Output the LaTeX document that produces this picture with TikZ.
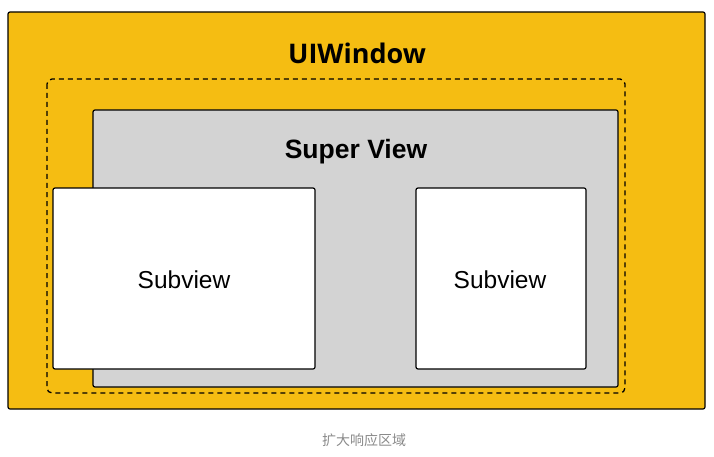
\documentclass[tikz,border=0pt]{standalone}
\usepackage{fontspec}
\setmainfont{Liberation Sans}
\newfontfamily\winfont{Open Sans}
\newfontfamily\cjk{Noto Sans CJK SC}
\usepackage[HTML]{xcolor}
\usepackage{tikz}
\usetikzlibrary{positioning}
\definecolor{winyellow}{HTML}{F5BD12}
\definecolor{supergray}{HTML}{D3D3D3}
\definecolor{captiongray}{HTML}{8A8A8A}
\tikzset{
  viewbox/.style={draw=black, line width=1.2pt, rounded corners=2pt},
  hitarea/.style={draw=black, line width=1.3pt, dash pattern=on 5pt off 4pt, rounded corners=5pt}
}

\begin{document}
\begin{tikzpicture}[x=1pt, y=-1pt]
\useasboundingbox (0,0) rectangle (714,457);
% window, hit area and views
\draw[viewbox, fill=winyellow] (8,12) rectangle (705,409);
\draw[hitarea] (47,79) rectangle (625,393);
\draw[viewbox, fill=supergray] (93,110) rectangle (618,387);
\draw[viewbox, fill=white] (53,188) rectangle (315,369);
\draw[viewbox, fill=white] (416,188) rectangle (586,369);
% labels
\node (window) at (357,53) {\winfont\fontsize{27}{32}\selectfont\bfseries UIWindow};
\node (super) at (356,152) {\fontsize{26.5}{31}\selectfont\bfseries Super View};
\node (subleft) at (184,280) {\fontsize{24.5}{29}\selectfont Subview};
\node (subright) at (500,280) {\fontsize{24.5}{29}\selectfont Subview};
\node[text=captiongray] (caption) at (364,440) {\cjk\fontsize{14}{17}\selectfont 扩大响应区域};
\end{tikzpicture}
\end{document}
